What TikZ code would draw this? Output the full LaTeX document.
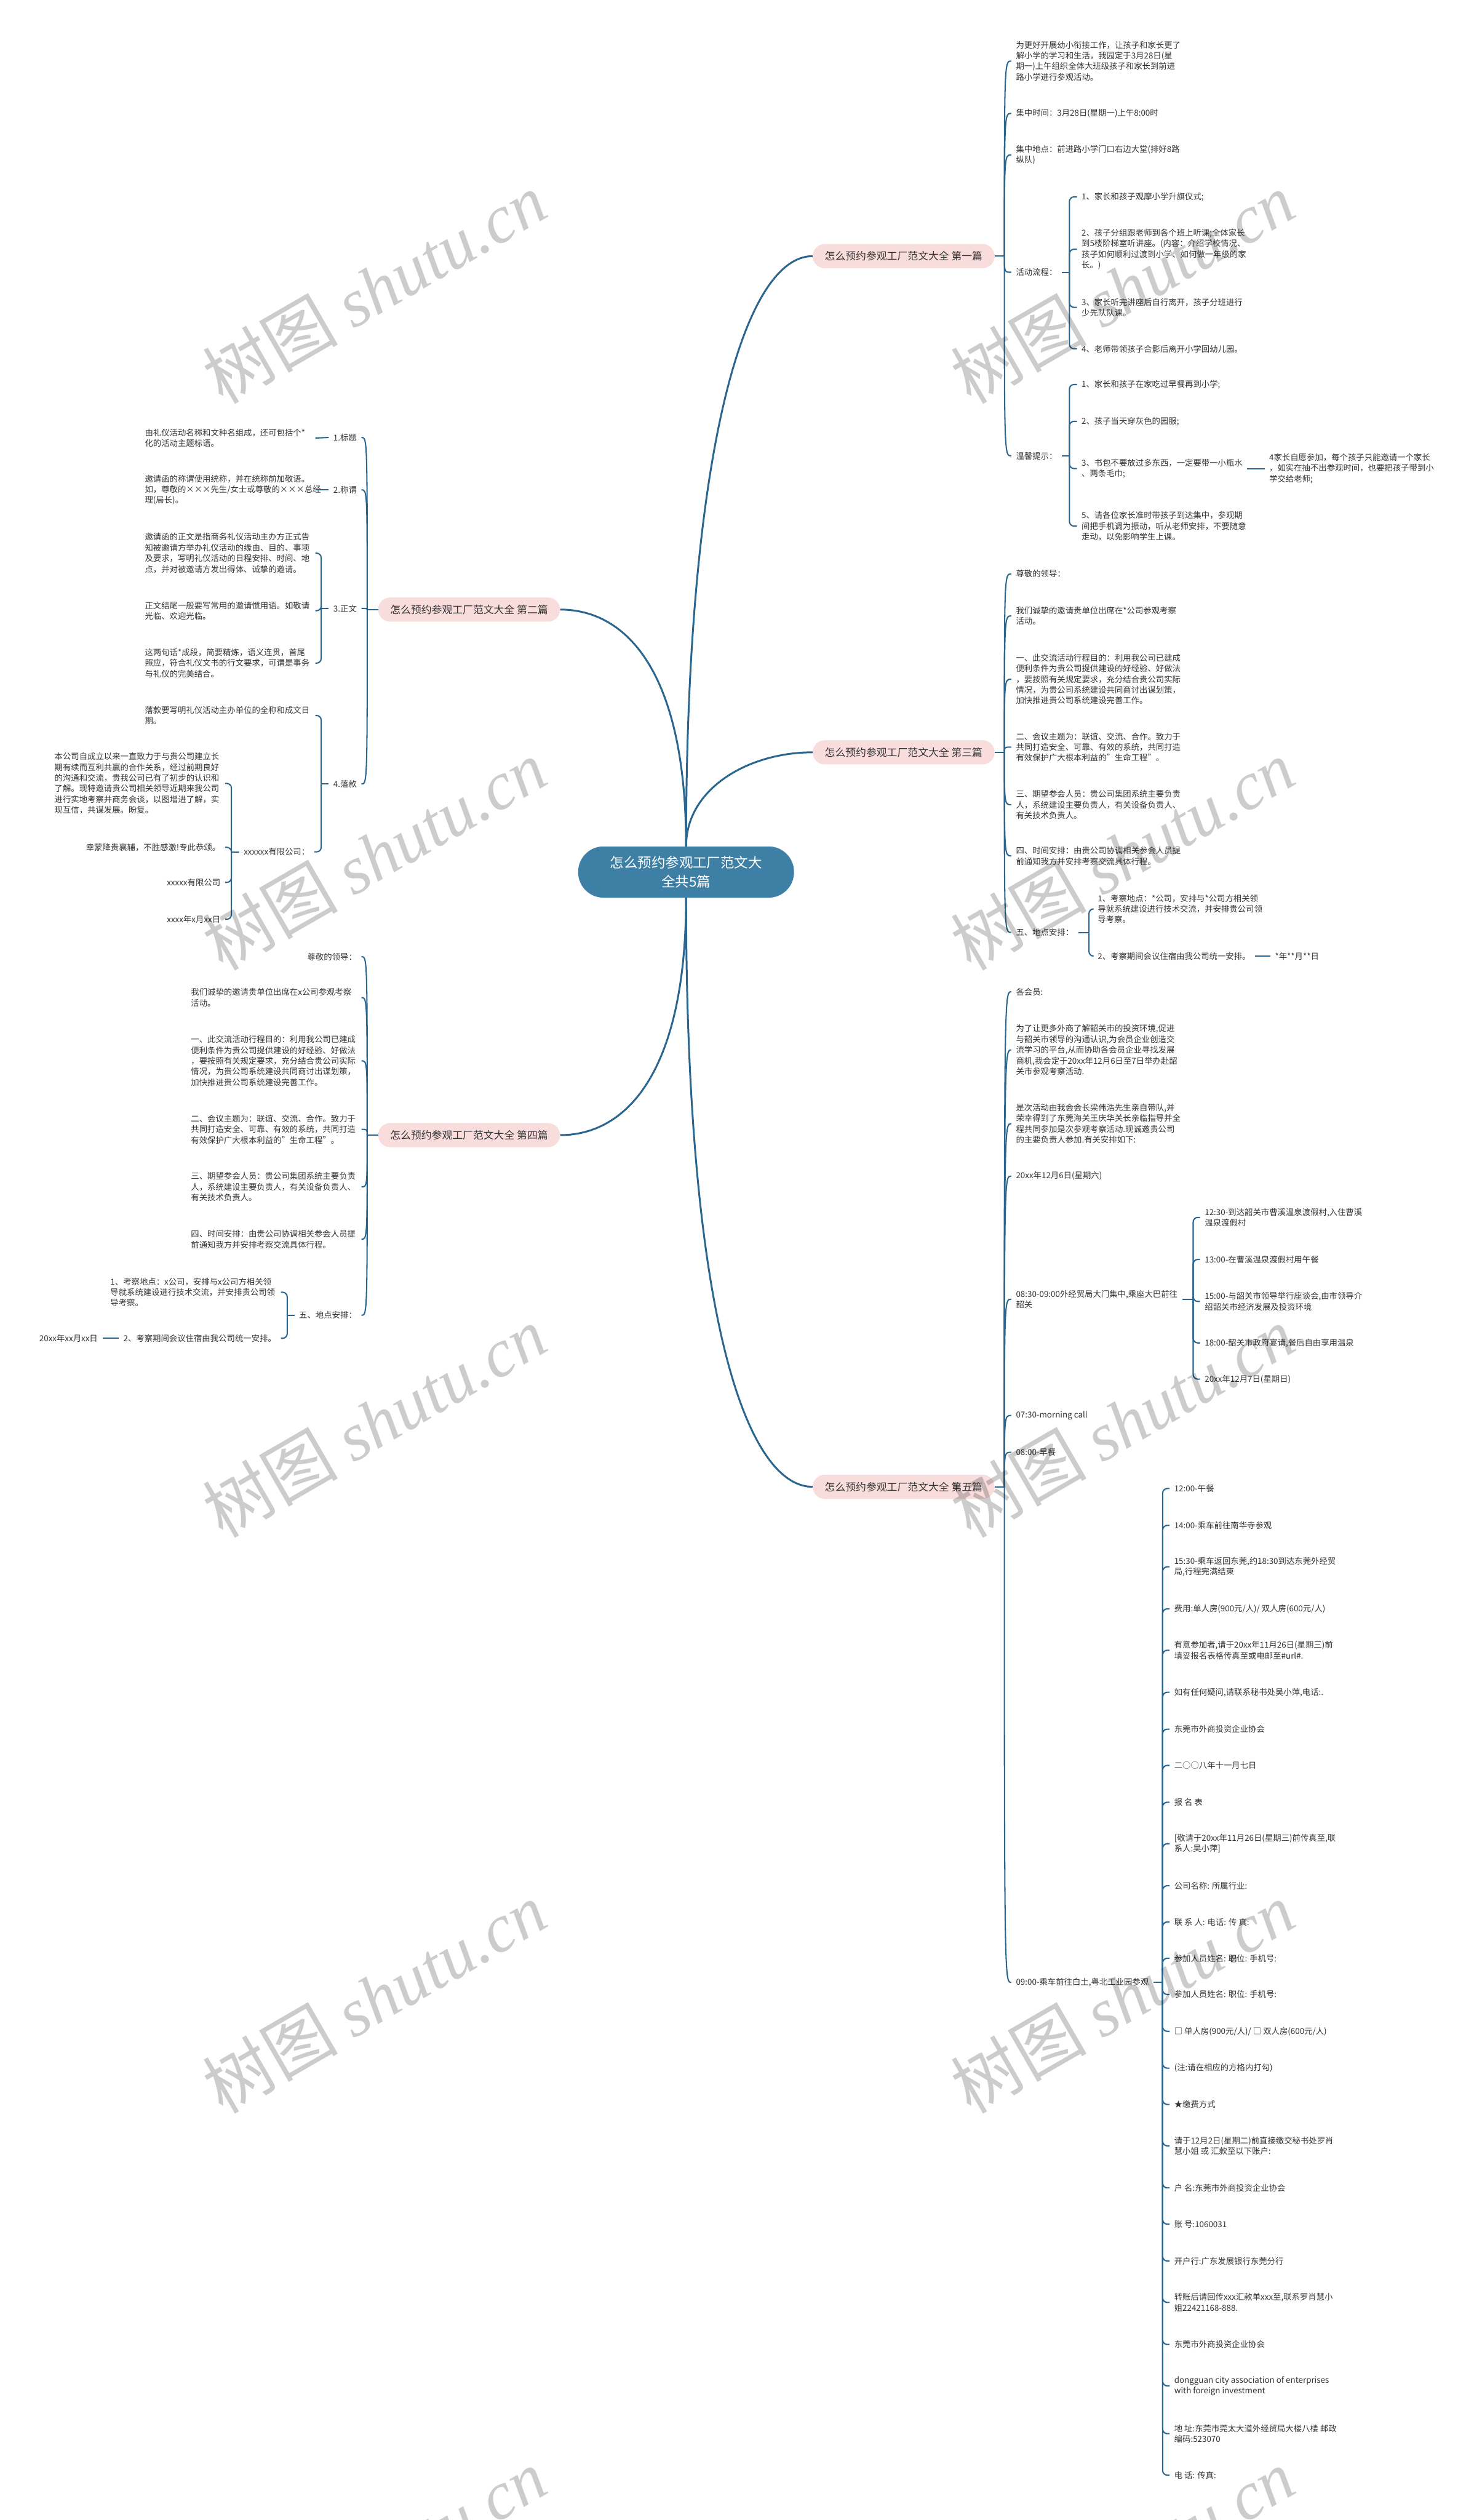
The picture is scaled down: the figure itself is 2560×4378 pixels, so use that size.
\documentclass[tikz,border=0pt]{standalone}
\usepackage{fontspec}
\setmainfont{Noto Sans CJK SC}
\newfontfamily\wmlatin{Liberation Serif}
\definecolor{linec}{HTML}{2B668E}
\definecolor{pinkc}{HTML}{F9DCDC}
\definecolor{centc}{HTML}{3E7FA6}
\definecolor{txtc}{HTML}{333333}
\tikzset{
  txt/.style={font=\fontsize{14.3}{18.6}\selectfont, text=txtc, inner xsep=8pt, inner ysep=3pt, align=left},
  rt/.style={txt, anchor=west},
  lt/.style={txt, anchor=east},
  wide/.style={text width=288pt},
  link/.style={draw=linec, line width=2.2pt},
  mainlink/.style={draw=linec, line width=3.2pt},
  brk/.style={link, rounded corners=8pt},
  topic/.style={fill=pinkc, rounded corners=21pt, minimum width=316pt, minimum height=42pt, font=\fontsize{18}{22}\selectfont, text=txtc, inner sep=0pt},
  root/.style={fill=centc, rounded corners=44pt, minimum width=375pt, minimum height=89pt, font=\fontsize{24}{33}\selectfont, text=white, align=center},
  wmark/.style={rotate=30, text=black, text opacity=0.2, font=\fontsize{118}{120}\selectfont}
}
\begin{document}
\begin{tikzpicture}[x=1pt,y=-1pt]
\fill[white] (0,0) rectangle (2560,4378);
\useasboundingbox (0,0) rectangle (2560,4378);

% root and topics
\node[root] (c) at (1192,1515) {怎么预约参观工厂范文大\\全共5篇};
\node[topic] (b1) at (1570,445) {怎么预约参观工厂范文大全 第一篇};
\node[topic] (b2) at (815,1059) {怎么预约参观工厂范文大全 第二篇};
\node[topic] (b3) at (1570,1307) {怎么预约参观工厂范文大全 第三篇};
\node[topic] (b4) at (815,1972) {怎么预约参观工厂范文大全 第四篇};
\node[topic] (b5) at (1570,2583) {怎么预约参观工厂范文大全 第五篇};

\draw[mainlink] (c.north) .. controls (1192,800) and (1290,445) .. (b1.west);
\draw[mainlink] (c.north) .. controls (1192,1370) and (1300,1307) .. (b3.west);
\draw[mainlink] (c.north) .. controls (1192,1170) and (1090,1059) .. (b2.east);
\draw[mainlink] (c.south) .. controls (1192,1860) and (1090,1972) .. (b4.east);
\draw[mainlink] (c.south) .. controls (1192,2300) and (1300,2583) .. (b5.west);

% ---------------- branch 1
\coordinate (j1) at (1745,445);
\node[rt] (a1p) at (1757,106) {为更好开展幼小衔接工作，让孩子和家长更了\\解小学的学习和生活，我园定于3月28日(星\\期一)上午组织全体大班级孩子和家长到前进\\路小学进行参观活动。};
\node[rt] (a1t) at (1757,197) {集中时间：3月28日(星期一)上午8:00时};
\node[rt] (a1d) at (1757,269) {集中地点：前进路小学门口右边大堂(排好8路\\纵队)};
\node[rt] (a1f) at (1757,473) {活动流程：};
\node[rt] (a1w) at (1757,792) {温馨提示：};
\draw[link] (b1.east) -- (j1);
\foreach \n in {a1p,a1t,a1d,a1f,a1w} \draw[link] (j1) .. controls (j1 |- \n.west) .. (\n.west);

\coordinate (k1) at (1858,473);
\node[rt] (a1f1) at (1871,342) {1、家长和孩子观摩小学升旗仪式;};
\node[rt] (a1f2) at (1871,433) {2、孩子分组跟老师到各个班上听课;全体家长\\到5楼阶梯室听讲座。(内容：介绍学校情况、\\孩子如何顺利过渡到小学、如何做一年级的家\\长。)};
\node[rt] (a1f3) at (1871,534) {3、家长听完讲座后自行离开，孩子分班进行\\少先队队课。};
\node[rt] (a1f4) at (1871,606) {4、老师带领孩子合影后离开小学回幼儿园。};
\draw[link] (a1f.east) -- (k1);
\foreach \n in {a1f1,a1f2,a1f3,a1f4} \draw[brk] (k1) |- (\n.west);

\coordinate (k2) at (1858,792);
\node[rt] (a1w1) at (1871,668) {1、家长和孩子在家吃过早餐再到小学;};
\node[rt] (a1w2) at (1871,732) {2、孩子当天穿灰色的园服;};
\node[rt] (a1w3) at (1871,814) {3、书包不要放过多东西，一定要带一小瓶水\\、两条毛巾;};
\node[rt] (a1w5) at (1871,914) {5、请各位家长准时带孩子到达集中，参观期\\间把手机调为振动，听从老师安排，不要随意\\走动，以免影响学生上课。};
\node[rt] (a1w4) at (2197,814) {4家长自愿参加，每个孩子只能邀请一个家长\\，如实在抽不出参观时间，也要把孩子带到小\\学交给老师;};
\draw[link] (a1w.east) -- (k2);
\foreach \n in {a1w1,a1w2,a1w3,a1w5} \draw[brk] (k2) |- (\n.west);
\draw[link] (a1w3.east) -- (a1w4.west);

% ---------------- branch 3
\coordinate (j3) at (1745,1307);
\node[rt] (a3a) at (1757,997) {尊敬的领导：};
\node[rt] (a3b) at (1757,1070) {我们诚挚的邀请贵单位出席在*公司参观考察\\活动。};
\node[rt] (a3c) at (1757,1180) {一、此交流活动行程目的：利用我公司已建成\\便利条件为贵公司提供建设的好经验、好做法\\，要按照有关规定要求，充分结合贵公司实际\\情况，为贵公司系统建设共同商讨出谋划策，\\加快推进贵公司系统建设完善工作。};
\node[rt] (a3d) at (1757,1298) {二、会议主题为：联谊、交流、合作。致力于\\共同打造安全、可靠、有效的系统，共同打造\\有效保护广大根本利益的"生命工程"。};
\node[rt] (a3e) at (1757,1398) {三、期望参会人员：贵公司集团系统主要负责\\人，系统建设主要负责人，有关设备负责人、\\有关技术负责人。};
\node[rt] (a3f) at (1757,1487) {四、时间安排：由贵公司协调相关参会人员提\\前通知我方并安排考察交流具体行程。};
\node[rt] (a3g) at (1757,1620) {五、地点安排：};
\draw[link] (b3.east) -- (j3);
\foreach \n in {a3a,a3b,a3c,a3d,a3e,a3f,a3g} \draw[link] (j3) .. controls (j3 |- \n.west) .. (\n.west);

\coordinate (k3) at (1892,1620);
\node[rt] (a3g1) at (1899,1579) {1、考察地点：*公司，安排与*公司方相关领\\导就系统建设进行技术交流，并安排贵公司领\\导考察。};
\node[rt] (a3g2) at (1899,1661) {2、考察期间会议住宿由我公司统一安排。};
\node[rt] (a3g3) at (2207,1661) {*年**月**日};
\draw[link] (a3g.east) -- (k3);
\foreach \n in {a3g1,a3g2} \draw[brk] (k3) |- (\n.west);
\draw[link] (a3g2.east) -- (a3g3.west);

% ---------------- branch 2
\coordinate (j2) at (638,1059);
\node[lt] (a2a) at (628,760) {1.标题};
\node[lt] (a2b) at (628,851) {2.称谓};
\node[lt] (a2c) at (628,1057) {3.正文};
\node[lt] (a2d) at (628,1362) {4.落款};
\draw[link] (b2.west) -- (j2);
\foreach \n in {a2a,a2b,a2c,a2d} \draw[link] (j2) .. controls (j2 |- \n.east) .. (\n.east);

\node[lt,wide] (a2a1) at (548,761) {由礼仪活动名称和文种名组成，还可包括个*\\化的活动主题标语。};
\node[lt,wide] (a2b1) at (548,851) {邀请函的称谓使用统称，并在统称前加敬语。\\如，尊敬的×××先生/女士或尊敬的×××总经\\理(局长)。};
\draw[link] (a2a.west) -- (a2a1.east);
\draw[link] (a2b.west) -- (a2b1.east);

\coordinate (k4) at (558,1057);
\node[lt,wide] (a2c1) at (548,961) {邀请函的正文是指商务礼仪活动主办方正式告\\知被邀请方举办礼仪活动的缘由、目的、事项\\及要求，写明礼仪活动的日程安排、时间、地\\点，并对被邀请方发出得体、诚挚的邀请。};
\node[lt,wide] (a2c2) at (548,1061) {正文结尾一般要写常用的邀请惯用语。如敬请\\光临、欢迎光临。};
\node[lt,wide] (a2c3) at (548,1152) {这两句话*成段，简要精炼，语义连贯，首尾\\照应，符合礼仪文书的行文要求，可谓是事务\\与礼仪的完美结合。};
\draw[link] (a2c.west) -- (k4);
\foreach \n in {a2c1,a2c2,a2c3} \draw[brk] (k4) |- (\n.east);

\coordinate (k5) at (558,1362);
\node[lt,wide] (a2d1) at (548,1243) {落款要写明礼仪活动主办单位的全称和成文日\\期。};
\node[lt] (a2d2) at (546,1480) {xxxxxx有限公司：};
\draw[link] (a2d.west) -- (k5);
\foreach \n in {a2d1,a2d2} \draw[brk] (k5) |- (\n.east);

\coordinate (k6) at (402,1480);
\node[lt,wide] (a2e1) at (391,1361) {本公司自成立以来一直致力于与贵公司建立长\\期有续而互利共赢的合作关系，经过前期良好\\的沟通和交流，贵我公司已有了初步的认识和\\了解。现特邀请贵公司相关领导近期来我公司\\进行实地考察并商务会谈，以图增进了解，实\\现互信，共谋发展。盼复。};
\node[lt] (a2e2) at (391,1472) {幸蒙降贵襄辅，不胜感激!专此恭颂。};
\node[lt] (a2e3) at (391,1533) {xxxxx有限公司};
\node[lt] (a2e4) at (391,1597) {xxxx年x月xx日};
\draw[link] (a2d2.west) -- (k6);
\foreach \n in {a2e1,a2e2,a2e3,a2e4} \draw[brk] (k6) |- (\n.east);

% ---------------- branch 4
\coordinate (j4) at (638,1972);
\node[lt] (a4a) at (628,1662) {尊敬的领导：};
\node[lt,wide] (a4b) at (628,1733) {我们诚挚的邀请贵单位出席在x公司参观考察\\活动。};
\node[lt,wide] (a4c) at (628,1843) {一、此交流活动行程目的：利用我公司已建成\\便利条件为贵公司提供建设的好经验、好做法\\，要按照有关规定要求，充分结合贵公司实际\\情况，为贵公司系统建设共同商讨出谋划策，\\加快推进贵公司系统建设完善工作。};
\node[lt,wide] (a4d) at (628,1962) {二、会议主题为：联谊、交流、合作。致力于\\共同打造安全、可靠、有效的系统，共同打造\\有效保护广大根本利益的"生命工程"。};
\node[lt,wide] (a4e) at (628,2062) {三、期望参会人员：贵公司集团系统主要负责\\人，系统建设主要负责人，有关设备负责人、\\有关技术负责人。};
\node[lt,wide] (a4f) at (628,2153) {四、时间安排：由贵公司协调相关参会人员提\\前通知我方并安排考察交流具体行程。};
\node[lt] (a4g) at (628,2285) {五、地点安排：};
\draw[link] (b4.west) -- (j4);
\foreach \n in {a4a,a4b,a4c,a4d,a4e,a4f,a4g} \draw[link] (j4) .. controls (j4 |- \n.east) .. (\n.east);

\coordinate (k7) at (499,2285);
\node[lt,wide] (a4g1) at (488,2245) {1、考察地点：x公司，安排与x公司方相关领\\导就系统建设进行技术交流，并安排贵公司领\\导考察。};
\node[lt] (a4g2) at (488,2325) {2、考察期间会议住宿由我公司统一安排。};
\node[lt] (a4g3) at (178,2325) {20xx年xx月xx日};
\draw[link] (a4g.west) -- (k7);
\foreach \n in {a4g1,a4g2} \draw[brk] (k7) |- (\n.east);
\draw[link] (a4g2.west) -- (a4g3.east);

% ---------------- branch 5
\coordinate (j5) at (1745,2583);
\node[rt] (a5a) at (1757,1723) {各会员:};
\node[rt] (a5b) at (1757,1824) {为了让更多外商了解韶关市的投资环境,促进\\与韶关市领导的沟通认识,为会员企业创造交\\流学习的平台,从而协助各会员企业寻找发展\\商机,我会定于20xx年12月6日至7日举办赴韶\\关市参观考察活动.};
\node[rt] (a5c) at (1757,1952) {是次活动由我会会长梁伟浩先生亲自带队,并\\荣幸得到了东莞海关王庆华关长亲临指导并全\\程共同参加是次参观考察活动.现诚邀贵公司\\的主要负责人参加.有关安排如下:};
\node[rt] (a5d) at (1757,2043) {20xx年12月6日(星期六)};
\node[rt] (a5e) at (1757,2257) {08:30-09:00外经贸局大门集中,乘座大巴前往\\韶关};
\node[rt] (a5f) at (1757,2459) {07:30-morning call};
\node[rt] (a5g) at (1757,2523) {08:00-早餐};
\node[rt] (a5h) at (1757,3444) {09:00-乘车前往白土,粤北工业园参观};
\draw[link] (b5.east) -- (j5);
\foreach \n in {a5a,a5b,a5c,a5d,a5e,a5f,a5g,a5h} \draw[link] (j5) .. controls (j5 |- \n.west) .. (\n.west);

\coordinate (k8) at (2073,2257);
\node[rt] (a5e1) at (2085,2115) {12:30-到达韶关市曹溪温泉渡假村,入住曹溪\\温泉渡假村};
\node[rt] (a5e2) at (2085,2188) {13:00-在曹溪温泉渡假村用午餐};
\node[rt] (a5e3) at (2085,2261) {15:00-与韶关市领导举行座谈会,由市领导介\\绍韶关市经济发展及投资环境};
\node[rt] (a5e4) at (2085,2333) {18:00-韶关市政府宴请,餐后自由享用温泉};
\node[rt] (a5e5) at (2085,2396) {20xx年12月7日(星期日)};
\draw[link] (a5e.east) -- (k8);
\foreach \n in {a5e1,a5e2,a5e3,a5e4,a5e5} \draw[brk] (k8) |- (\n.west);

\coordinate (k9) at (2020,3444);
\node[rt] (h1) at (2032,2586) {12:00-午餐};
\node[rt] (h2) at (2032,2650) {14:00-乘车前往南华寺参观};
\node[rt] (h3) at (2032,2722) {15:30-乘车返回东莞,约18:30到达东莞外经贸\\局,行程完满结束};
\node[rt] (h4) at (2032,2795) {费用:单人房(900元/人)/ 双人房(600元/人)};
\node[rt] (h5) at (2032,2867) {有意参加者,请于20xx年11月26日(星期三)前\\填妥报名表格传真至或电邮至\#url\#.};
\node[rt] (h6) at (2032,2940) {如有任何疑问,请联系秘书处吴小萍,电话:.};
\node[rt] (h7) at (2032,3004) {东莞市外商投资企业协会};
\node[rt] (h8) at (2032,3067) {二○○八年十一月七日};
\node[rt] (h9) at (2032,3131) {报 名 表};
\node[rt] (h10) at (2032,3203) {[敬请于20xx年11月26日(星期三)前传真至,联\\系人:吴小萍]};
\node[rt] (h11) at (2032,3276) {公司名称: 所属行业:};
\node[rt] (h12) at (2032,3339) {联 系 人: 电话: 传 真:};
\node[rt] (h13) at (2032,3402) {参加人员姓名: 职位: 手机号:};
\node[rt] (h14) at (2032,3465) {参加人员姓名: 职位: 手机号:};
\node[rt] (h15) at (2032,3529) {□ 单人房(900元/人)/ □ 双人房(600元/人)};
\node[rt] (h16) at (2032,3593) {(注:请在相应的方格内打勾)};
\node[rt] (h17) at (2032,3656) {★缴费方式};
\node[rt] (h18) at (2032,3728) {请于12月2日(星期二)前直接缴交秘书处罗肖\\慧小姐 或 汇款至以下账户:};
\node[rt] (h19) at (2032,3801) {户 名:东莞市外商投资企业协会};
\node[rt] (h20) at (2032,3864) {账 号:1060031};
\node[rt] (h21) at (2032,3928) {开户行:广东发展银行东莞分行};
\node[rt] (h22) at (2032,4000) {转账后请回传xxx汇款单xxx至,联系罗肖慧小\\姐22421168-888.};
\node[rt] (h23) at (2032,4073) {东莞市外商投资企业协会};
\node[rt] (h24) at (2032,4145) {dongguan city association of enterprises\\with foreign investment};
\node[rt] (h25) at (2032,4228) {地 址:东莞市莞太大道外经贸局大楼八楼 邮政\\编码:523070};
\node[rt] (h26) at (2032,4300) {电 话: 传真:};
\draw[link] (a5h.east) -- (k9);
\foreach \n in {h1,h2,h3,h4,h5,h6,h7,h8,h9,h10,h11,h12,h13,h14,h15,h16,h17,h18,h19,h20,h21,h22,h23,h24,h25,h26} \draw[brk] (k9) |- (\n.west);

% ---------------- watermarks
\foreach \wy [count=\i] in {500,1485,2470,3470,4455} {
  \node[wmark] (wl\i) at (650,\wy) {树图 {\wmlatin\itshape shutu.cn}};
  \node[wmark] (wr\i) at (1950,\wy) {树图 {\wmlatin\itshape shutu.cn}};
}
\end{tikzpicture}
\end{document}
